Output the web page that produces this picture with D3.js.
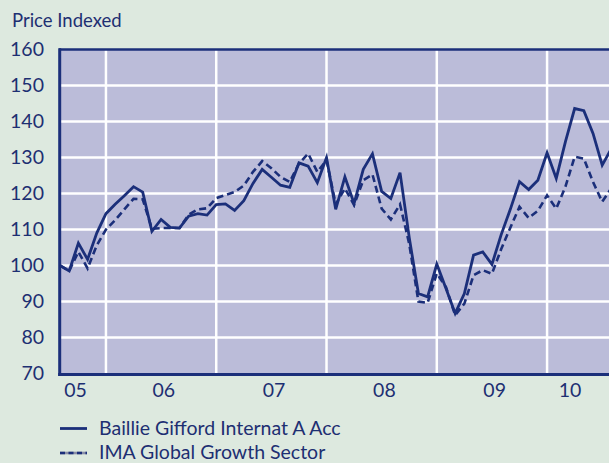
<!DOCTYPE html>
<html><head><meta charset="utf-8">
<script src="https://cdn.jsdelivr.net/npm/d3@7"></script>
<style>
html,body{margin:0;padding:0;background:#dde9df;overflow:hidden}
text{font-family:Lato,"Liberation Sans",sans-serif;fill:#1d2f72}
</style></head><body>
<svg id="chart" width="609" height="463"></svg>
<script>
// Monthly index values, Aug 2005 .. Aug 2010 (month index 0..60)
const fundName = "Baillie Gifford Internat A Acc";
const sectorName = "IMA Global Growth Sector";
const fund = [100,98.5,106.2,101.7,109,114.4,117,119.4,121.9,120.4,109.5,112.8,110.6,110.4,113.7,114.4,114,116.9,117.1,115.3,118,122.8,126.7,124.5,122.3,121.7,128.5,127.6,123,130,115.6,124.6,117.2,126.7,131,120.6,118.6,125.8,107.8,92.2,91.3,100.4,93.6,86.7,92.2,102.9,103.8,100.3,108.5,115.6,123.3,121.1,123.7,131.3,124.2,134.4,143.6,143,136.7,127.9,132.5];
const sector = [100,98.5,103.8,99.2,105.6,110,112.6,115.6,118.5,118.4,110.2,110.4,110.4,110.4,114.1,115.6,115.9,118.7,119.6,120.4,122.2,126,129,127,124.6,123.2,128.3,131.1,126,129.3,117,121.4,116.8,123.7,125.3,115.8,112.8,117,106,90,89.6,97.8,94,86.2,89.4,97.3,98.7,97.7,104.5,110.5,116.3,113.2,115.2,119.5,115.8,121.9,130.2,129.7,123.2,117.7,121.5];
const yTicks = [70,80,90,100,110,120,130,140,150,160];
const yearLabels = ["05","06","07","08","09","10"];
const yearLabelAt = [1.7,11.3,23.3,35.3,47.3,55.5];   // month index where each label sits
const yearStarts = [5,17,29,41,53];                   // January of 2006..2010

const navy = "#1b2f7a";
const svg = d3.select("#chart");
const x = d3.scaleLinear().domain([0,60]).range([60,611.4]);
const y = d3.scaleLinear().domain([70,160]).range([373.5,49.5]);

// title
svg.append("text").attr("x",12).attr("y",27).style("font-size","18.5px").text("Price Indexed");

// plot area
svg.append("rect").attr("x",x(0)).attr("y",y(160)).attr("width",620-x(0)).attr("height",y(70)-y(160)).attr("fill","#bbbcd9");

// gridlines
svg.append("g").selectAll("line").data(yTicks.filter(d=>d>70&&d<160)).join("line")
  .attr("x1",x(0)).attr("x2",620).attr("y1",d=>y(d)).attr("y2",d=>y(d))
  .attr("stroke","#fff").attr("stroke-width",2.5);
svg.append("g").selectAll("line").data(yearStarts).join("line")
  .attr("x1",d=>x(d)).attr("x2",d=>x(d)).attr("y1",y(160)).attr("y2",y(70))
  .attr("stroke","#fff").attr("stroke-width",2.5);

// borders
svg.append("line").attr("x1",x(0)-1).attr("x2",620).attr("y1",y(160)).attr("y2",y(160)).attr("stroke",navy).attr("stroke-width",2.5);
svg.append("line").attr("x1",x(0)-0.3).attr("x2",x(0)-0.3).attr("y1",y(160)-1.2).attr("y2",y(70)+2.5).attr("stroke",navy).attr("stroke-width",3);
svg.append("line").attr("x1",x(0)-1.8).attr("x2",620).attr("y1",y(70)+1).attr("y2",y(70)+1).attr("stroke",navy).attr("stroke-width",3);

// y axis labels
svg.append("g").selectAll("text").data(yTicks).join("text")
  .attr("x",44).attr("y",d=>y(d)+6.5).attr("text-anchor","end").style("font-size","19.5px").text(d=>d);

// x axis labels
svg.append("g").selectAll("text").data(yearLabels).join("text")
  .attr("x",(d,i)=>x(yearLabelAt[i])).attr("y",397).attr("text-anchor","middle").style("font-size","19.5px").text(d=>d);

// lines
const line = d3.line().x((d,i)=>x(i)).y(d=>y(d));
svg.append("path").datum(sector).attr("d",line).attr("fill","none").attr("stroke",navy)
  .attr("stroke-width",2.6).attr("stroke-dasharray","7,4").attr("stroke-linejoin","miter");
svg.append("path").datum(fund).attr("d",line).attr("fill","none").attr("stroke",navy)
  .attr("stroke-width",2.8).attr("stroke-linejoin","miter");

// legend
svg.append("line").attr("x1",60).attr("x2",87).attr("y1",428.5).attr("y2",428.5).attr("stroke",navy).attr("stroke-width",2.8);
svg.append("text").attr("x",99).attr("y",435).style("font-size","19.5px").text(fundName);
svg.append("line").attr("x1",60).attr("x2",87).attr("y1",453).attr("y2",453).attr("stroke","#8a8fa8").attr("stroke-width",2.6);
svg.append("line").attr("x1",60).attr("x2",87).attr("y1",453).attr("y2",453).attr("stroke",navy).attr("stroke-width",2.6).attr("stroke-dasharray","5,3.5");
svg.append("text").attr("x",99).attr("y",458.5).style("font-size","19.5px").text(sectorName);
</script></body></html>
